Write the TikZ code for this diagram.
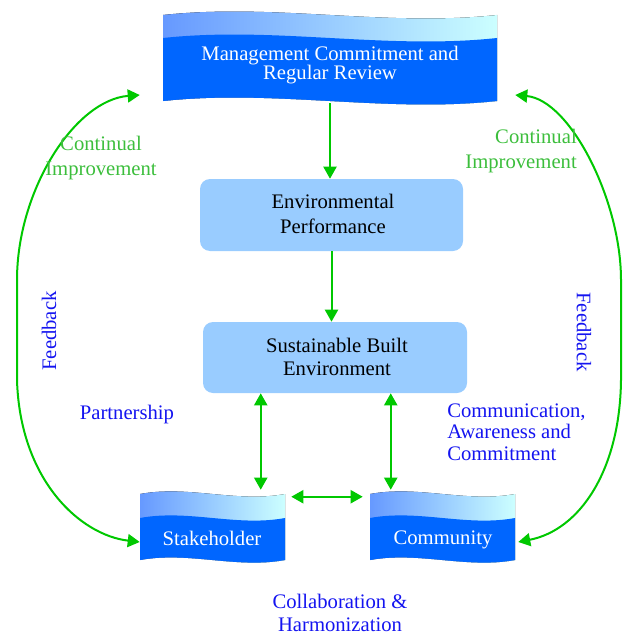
\documentclass[tikz,border=0pt]{standalone}
\usepackage{fontspec}
\setmainfont{Liberation Serif}
\usetikzlibrary{arrows.meta,calc}
\definecolor{arrowgreen}{RGB}{0,200,0}
\definecolor{labelgreen}{RGB}{60,190,60}
\definecolor{labelblue}{RGB}{20,20,240}
\definecolor{boxblue}{RGB}{153,204,255}
\definecolor{darkband}{RGB}{0,102,255}
\definecolor{lightL}{RGB}{102,153,255}
\definecolor{lightR}{RGB}{204,255,255}
% #1 x0, #2 y0, #3 w, #4 h, #5 band, #6 wave control
\newcommand\wavebanner[6]{%
  \fill[left color=lightL, right color=lightR]
    (#1,#2) .. controls ({#1+#3/3},{#2-#6}) and ({#1+2*#3/3},{#2+#6}) .. ({#1+#3},#2)
    -- ({#1+#3},{#2+#4}) .. controls ({#1+2*#3/3},{#2+#4+#6}) and ({#1+#3/3},{#2+#4-#6}) .. (#1,{#2+#4}) -- cycle;
  \fill[darkband]
    (#1,{#2+#5}) .. controls ({#1+#3/3},{#2+#5-#6}) and ({#1+2*#3/3},{#2+#5+#6}) .. ({#1+#3},{#2+#5})
    -- ({#1+#3},{#2+#4}) .. controls ({#1+2*#3/3},{#2+#4+#6}) and ({#1+#3/3},{#2+#4-#6}) .. (#1,{#2+#4}) -- cycle;
}
\tikzset{
  area/.style={draw=none, fill=none, inner sep=0pt, rectangle},
  txt/.style={inner sep=0pt, align=center},
  bannertext/.style={txt, text=white},
  roundbox/.style={fill=boxblue, rounded corners=7.5pt, inner sep=0pt, align=center},
  arr/.style={draw=arrowgreen, line width=1.5pt, -{Triangle[length=9pt,width=9.75pt]}},
  dbl/.style={draw=arrowgreen, line width=1.5pt, {Triangle[length=9pt,width=9.75pt]}-{Triangle[length=9pt,width=9.75pt]}},
  greenlabel/.style={txt, text=labelgreen},
  bluelabel/.style={txt, text=labelblue},
}
\begin{document}
\begin{tikzpicture}[x=0.75pt,y=-0.75pt]
\useasboundingbox (0,0) rectangle (626,635);

% banners
\wavebanner{163}{15}{334}{86}{23}{12}
\wavebanner{140}{494}{145}{66}{24}{9}
\wavebanner{370}{494}{145}{66}{24}{9}

\node[area, minimum width=250.5pt, minimum height=64.5pt] (mgmt) at (330,58) {};
\node[area, minimum width=108.75pt, minimum height=49.5pt] (stake) at (212.5,527) {};
\node[area, minimum width=108.75pt, minimum height=49.5pt] (comm) at (442.5,527) {};

\node[bannertext, font=\fontsize{15.5pt}{14.5pt}\selectfont] (mgmtT) at (330,65) {Management Commitment and\\Regular Review};
\node[bannertext, font=\fontsize{15.5pt}{18pt}\selectfont] (stakeT) at (212,538) {Stakeholder};
\node[bannertext, font=\fontsize{15.5pt}{18pt}\selectfont] (commT) at (443,540) {Community};

% rounded boxes
\node[roundbox, minimum width=197.25pt, minimum height=54pt] (env) at (331.5,215) {};
\node[txt, font=\fontsize{15.5pt}{18.75pt}\selectfont] (envT) at (333,214) {Environmental\\Performance};
\node[roundbox, minimum width=198pt, minimum height=53.25pt] (sbe) at (335,357.5) {};
\node[txt, font=\fontsize{15.5pt}{17.25pt}\selectfont] (sbeT) at (337,357) {Sustainable Built\\Environment};

% straight arrows
\draw[arr] (mgmt.south) ++(0,2) -- (mgmt.south |- env.north);
\draw[arr] (env.south) -- (env.south |- sbe.north);
\coordinate (s1) at ($(sbe.south west)+(58,0)$);
\coordinate (s2) at ($(sbe.south west)+(188,0)$);
\draw[dbl, shorten >=3pt] (s1) -- (s1 |- stake.north);
\draw[dbl, shorten >=3pt] (s2) -- (s2 |- comm.north);
\draw[dbl] ($(stake.north east)+(6,3)$) -- ($(comm.north west)+(-7,3)$);

% feedback loops
\draw[dbl] ($(mgmt.west)+(-23,37)$) .. controls (75,100) and (17,190) .. (17,280)
  -- (17,380) .. controls (20,480) and (80,535) .. ($(stake.west)+(0,15)$);
\draw[dbl] ($(mgmt.east)+(18,37)$) .. controls (570,100) and (621,200) .. (621,280)
  -- (621,380) .. controls (620,470) and (580,530) .. ($(comm.east)+(3,15)$);

% labels
\node[greenlabel, font=\fontsize{15.5pt}{18.75pt}\selectfont] (ciL) at (101,158) {Continual\\Improvement};
\node[greenlabel, align=right, anchor=east, font=\fontsize{15.5pt}{18.75pt}\selectfont] (ciR) at (577,151) {Continual\\Improvement};
\node[bluelabel, rotate=90, font=\fontsize{15.5pt}{18pt}\selectfont] (fbL) at (49,331) {Feedback};
\node[bluelabel, rotate=-90, font=\fontsize{15.5pt}{18pt}\selectfont] (fbR) at (584,332) {Feedback};
\node[bluelabel, font=\fontsize{15.5pt}{18pt}\selectfont] (part) at (127,415) {Partnership};
\node[bluelabel, align=left, anchor=west, font=\fontsize{15.5pt}{16.1pt}\selectfont] (cac) at (447,432) {Communication,\\Awareness and\\Commitment};
\node[bluelabel, font=\fontsize{15.5pt}{17pt}\selectfont] (collab) at (340,613) {Collaboration \&\\Harmonization};
\end{tikzpicture}
\end{document}
